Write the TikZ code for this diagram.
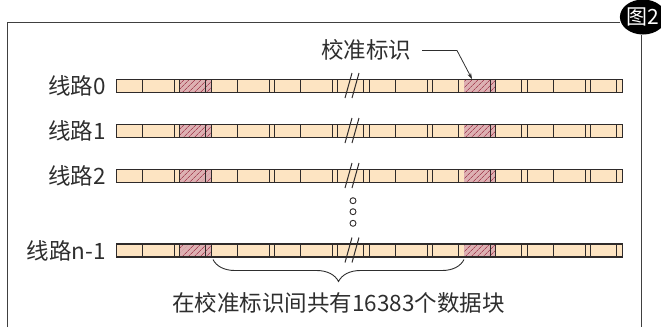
\documentclass[tikz,border=0pt]{standalone}
\usepackage{fontspec}
\setmainfont{Noto Sans CJK SC}
\usetikzlibrary{patterns.meta,decorations.pathreplacing,arrows.meta,shapes.geometric}
\definecolor{cellfill}{HTML}{FDE4C2}
\definecolor{markfill}{HTML}{DDB0B2}
\definecolor{markline}{HTML}{A8485A}
\definecolor{edge}{HTML}{2E2A2A}
\definecolor{txt}{HTML}{2E2E2E}
\begin{document}
\begin{tikzpicture}[x=1pt,y=-1pt,
  lbl/.style={font=\fontsize{22.5}{22.5}\selectfont, text=txt, inner sep=0pt},
  badge/.style={ellipse, fill=black, text=white, minimum width=44pt, minimum height=35pt, inner sep=0pt, font=\fontsize{21}{21}\selectfont},
  frameline/.style={draw=black!75, line width=1.1pt},
  divider/.style={draw=edge, line width=1pt},
  barout/.style={draw=edge, line width=1.3pt},
  breakline/.style={draw=edge, line width=1pt},
  dot/.style={circle, draw=edge, line width=0.9pt, minimum size=6pt, inner sep=0pt},
  leader/.style={draw=txt, line width=0.8pt},
  bracestyle/.style={draw=txt, line width=0.9pt, decorate, decoration={brace, amplitude=22pt, aspect=0.5}}]
\useasboundingbox (0,0) rectangle (661,327);
% frame and badge
\node[badge] (fig) at (643,17) {图2};
\coordinate (ftl) at (7.5,22.5);
\coordinate (fbl) at (7.5,327);
\coordinate (fbr) at (641.5,327);
\draw[frameline] (fbl) -- (ftl) -- (fig.west |- ftl);
\draw[frameline] (fig.south -| fbr) -- (fbr);
% rows
\foreach \r/\y/\t in {0/86/线路0, 1/131/线路1, 2/176/线路2, 3/250.5/线路n-1} {
  \node[lbl, anchor=east] (lab\r) at (106,\y) {\t};
  \foreach \i in {0,...,15} {
    \pgfmathsetmacro{\xa}{116.7+31.6*\i}
    \pgfmathsetmacro{\xb}{\xa+26}
    \pgfmathsetmacro{\xc}{\xa+31.6}
    \ifnum\i=2
      \fill[markfill] (\xa,\y-6.5) rectangle (\xc,\y+6.5);
      \fill[pattern={Lines[angle=45,distance=4pt,line width=0.7pt]}, pattern color=markline] (\xa,\y-6.5) rectangle (\xc,\y+6.5);
    \else\ifnum\i=11
      \fill[markfill] (\xa,\y-6.5) rectangle (\xc,\y+6.5);
      \fill[pattern={Lines[angle=45,distance=4pt,line width=0.7pt]}, pattern color=markline] (\xa,\y-6.5) rectangle (\xc,\y+6.5);
    \else
      \fill[cellfill] (\xa,\y-6.5) rectangle (\xc,\y+6.5);
    \fi\fi
    \draw[divider] (\xb,\y-6.5) -- (\xb,\y+6.5);
    \draw[divider] (\xc,\y-6.5) -- (\xc,\y+6.5);
  }
  \draw[barout] (116.7,\y-6.5) rectangle (622.3,\y+6.5);
  \draw[breakline] (345,\y+12) -- (352,\y-13);
  \draw[breakline] (352,\y+12) -- (359,\y-13);
}
% callout
\node[lbl] (cal) at (366,50) {校准标识};
\coordinate (bend) at (457,50.5);
\coordinate (mk) at (472,79);
\draw[leader, -{Stealth[length=6pt,width=4pt]}] ([xshift=11pt]cal.east |- bend) -- (bend) -- (mk);
% dots
\node[dot] (d1) at (353,200.7) {};
\node[dot] (d2) at (353,211.7) {};
\node[dot] (d3) at (353,223.3) {};
% brace
\coordinate (bl) at (213,259.5);
\coordinate (br) at (464,259.5);
\draw[bracestyle] (br) -- (bl);
\node[lbl] (note) at (338.5,303) {在校准标识间共有16383个数据块};
\end{tikzpicture}
\end{document}
